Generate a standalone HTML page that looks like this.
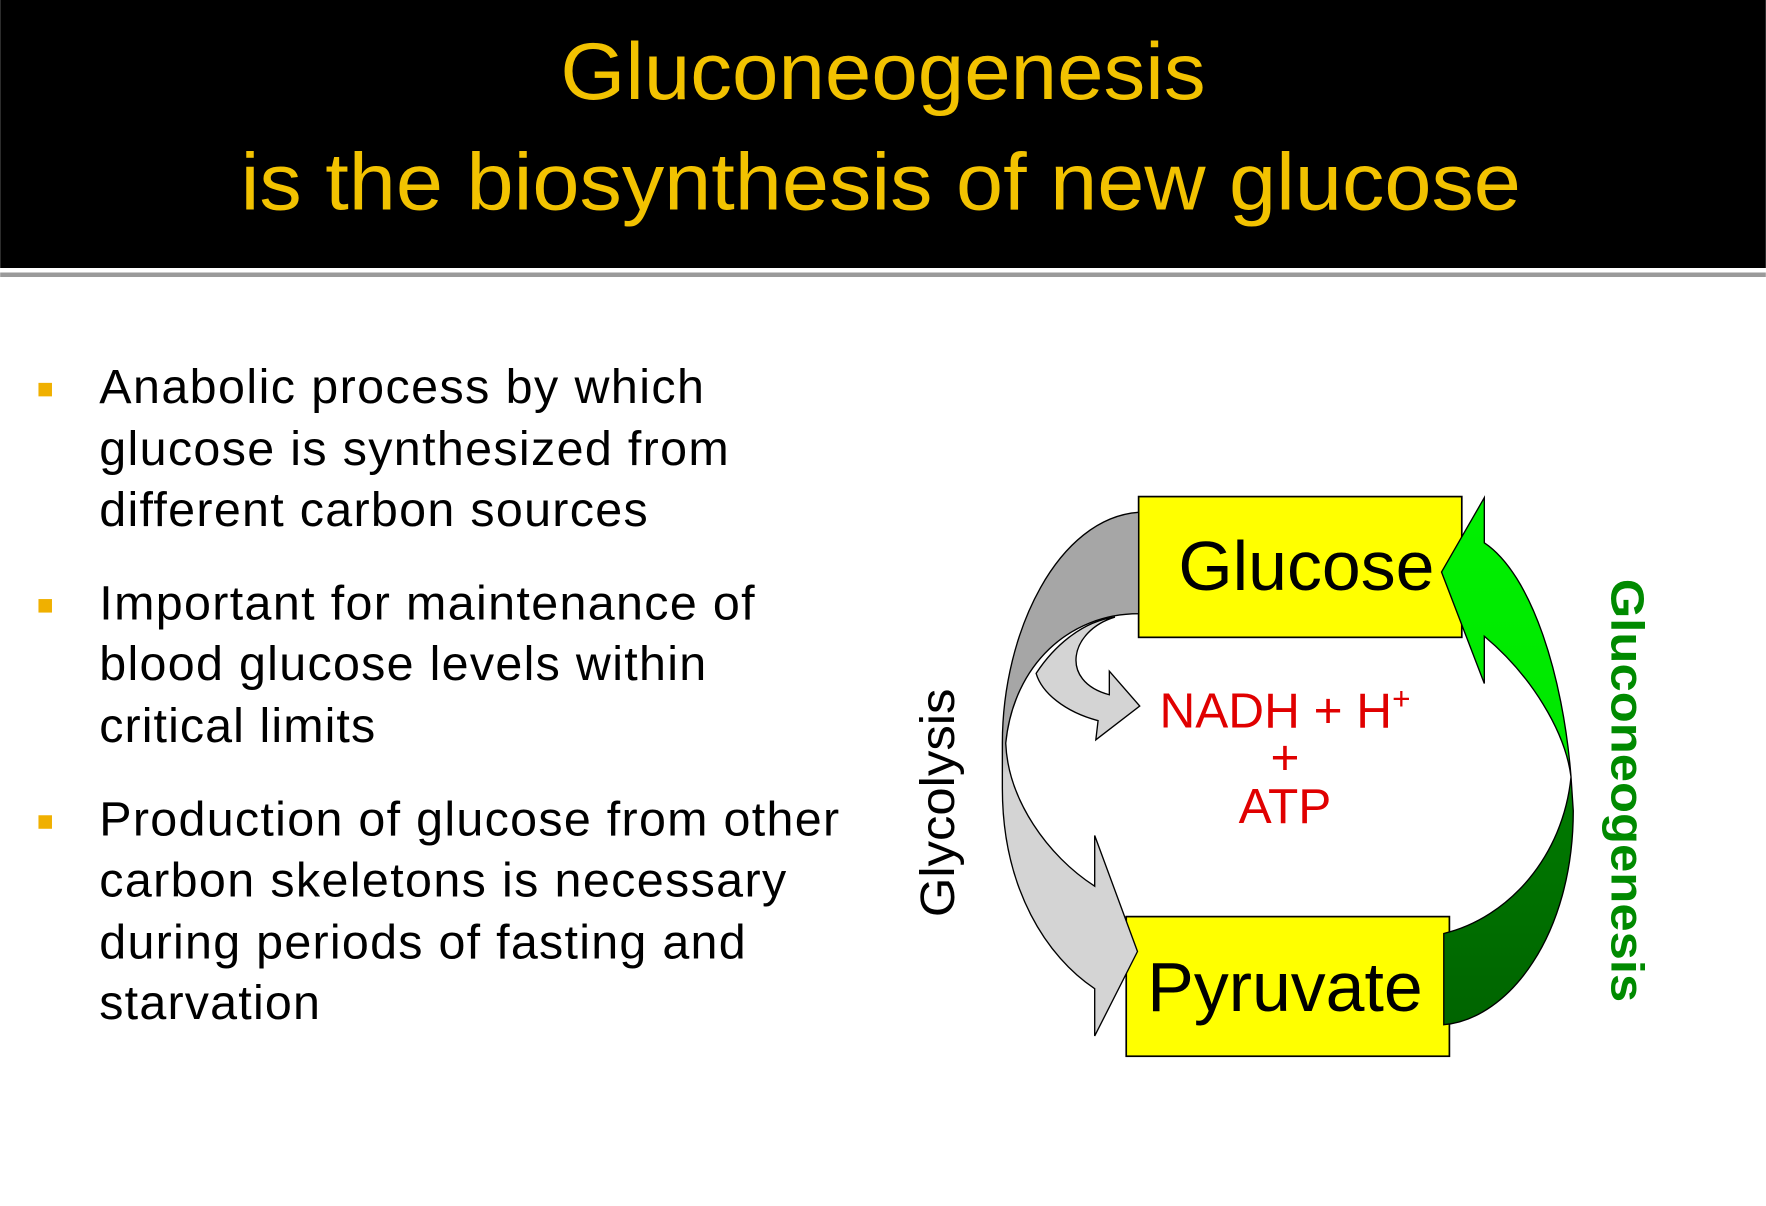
<!DOCTYPE html>
<html><head><meta charset="utf-8"><style>
html,body{margin:0;padding:0;background:#fff;}
svg{display:block;}
</style></head><body>
<svg width="1766" height="1206" viewBox="0 0 1568 1071" xmlns="http://www.w3.org/2000/svg">
<defs>
<linearGradient id="gray" x1="0" y1="0" x2="0" y2="1">
<stop offset="0" stop-color="#a6a6a6"/><stop offset="0.44" stop-color="#a6a6a6"/><stop offset="0.5" stop-color="#d4d4d4"/><stop offset="1" stop-color="#d4d4d4"/></linearGradient>
<linearGradient id="green" x1="0" y1="0" x2="0" y2="1">
<stop offset="0" stop-color="#00f000"/><stop offset="0.52" stop-color="#00e600"/><stop offset="0.56" stop-color="#007a00"/><stop offset="1" stop-color="#006400"/></linearGradient>
</defs>
<rect x="0" y="0" width="1568" height="238" fill="#000"/>
<rect x="0" y="242" width="1568" height="4" fill="#9a9a9a"/>
<g font-family="Liberation Sans, sans-serif" fill="#f2c200" text-anchor="middle">
<text x="784" y="88" font-size="72" textLength="573" lengthAdjust="spacingAndGlyphs">Gluconeogenesis</text>
<text x="782" y="186" font-size="72" textLength="1137" lengthAdjust="spacingAndGlyphs">is the biosynthesis of new glucose</text>
</g>
<g fill="#f0b000">
<rect x="34" y="340" width="12" height="12"/>
<rect x="34" y="532" width="12" height="12"/>
<rect x="34" y="724" width="12" height="12"/>
</g>
<g font-family="Liberation Sans, sans-serif" font-size="43" fill="#000" lengthAdjust="spacingAndGlyphs">
<text x="88" y="358" textLength="537">Anabolic process by which</text>
<text x="88" y="413" textLength="559">glucose is synthesized from</text>
<text x="88" y="467" textLength="487">different carbon sources</text>
<text x="88" y="550" textLength="582">Important for maintenance of</text>
<text x="88" y="604" textLength="539">blood glucose levels within</text>
<text x="88" y="659" textLength="245">critical limits</text>
<text x="88" y="742" textLength="657">Production of glucose from other</text>
<text x="88" y="796" textLength="610">carbon skeletons is necessary</text>
<text x="88" y="851" textLength="574">during periods of fasting and</text>
<text x="88" y="905" textLength="196">starvation</text>
</g>
<rect x="1011" y="441" width="287" height="125" fill="#ffff00" stroke="#000" stroke-width="1.5"/>
<rect x="1000" y="814" width="287" height="124" fill="#ffff00" stroke="#000" stroke-width="1.5"/>
<path fill="url(#gray)" stroke="#000" stroke-width="1.2"
 d="M1011,455 C940,460 890,560 890,660 L890,700 C890,790 930,850 972,878 L972,920 L1010,845 L972,742 L972,787 C930,760 895,710 893,660 C900,590 950,545 1011,545 Z"/>
<path fill="#d4d4d4" stroke="#000" stroke-width="1.2"
 d="M990,548 C950,560 940,605 985,617 L985,596 L1012,627 L973,657 L975,640 C945,632 925,615 920,598 C935,575 960,552 990,548 Z"/>
<path fill="url(#green)" stroke="#000" stroke-width="1.2"
 d="M1282,829 C1340,815 1388,760 1395,690 C1388,600 1360,510 1318,482 L1318,442 L1280,508 L1318,607 L1318,565 C1360,600 1390,650 1395,690 L1397,720 C1397,830 1340,905 1282,910 Z"/>
<g font-family="Liberation Sans, sans-serif" text-anchor="middle">
<text x="1160" y="524" font-size="62" fill="#000">Glucose</text>
<text x="1141" y="898" font-size="62" fill="#000">Pyruvate</text>
<text x="1141" y="646" font-size="44" fill="#e00000">NADH + H<tspan font-size="28" dy="-16">+</tspan></text>
<text x="1141" y="688" font-size="44" fill="#e00000">+</text>
<text x="1141" y="731" font-size="44" fill="#e00000">ATP</text>
<text transform="translate(847,713) rotate(-90)" font-size="43" fill="#000" textLength="203" lengthAdjust="spacingAndGlyphs">Glycolysis</text>
<text transform="translate(1431,702) rotate(90)" font-size="41" font-weight="bold" fill="#008a00" textLength="376" lengthAdjust="spacingAndGlyphs">Gluconeogenesis</text>
</g>
</svg>
</body></html>
